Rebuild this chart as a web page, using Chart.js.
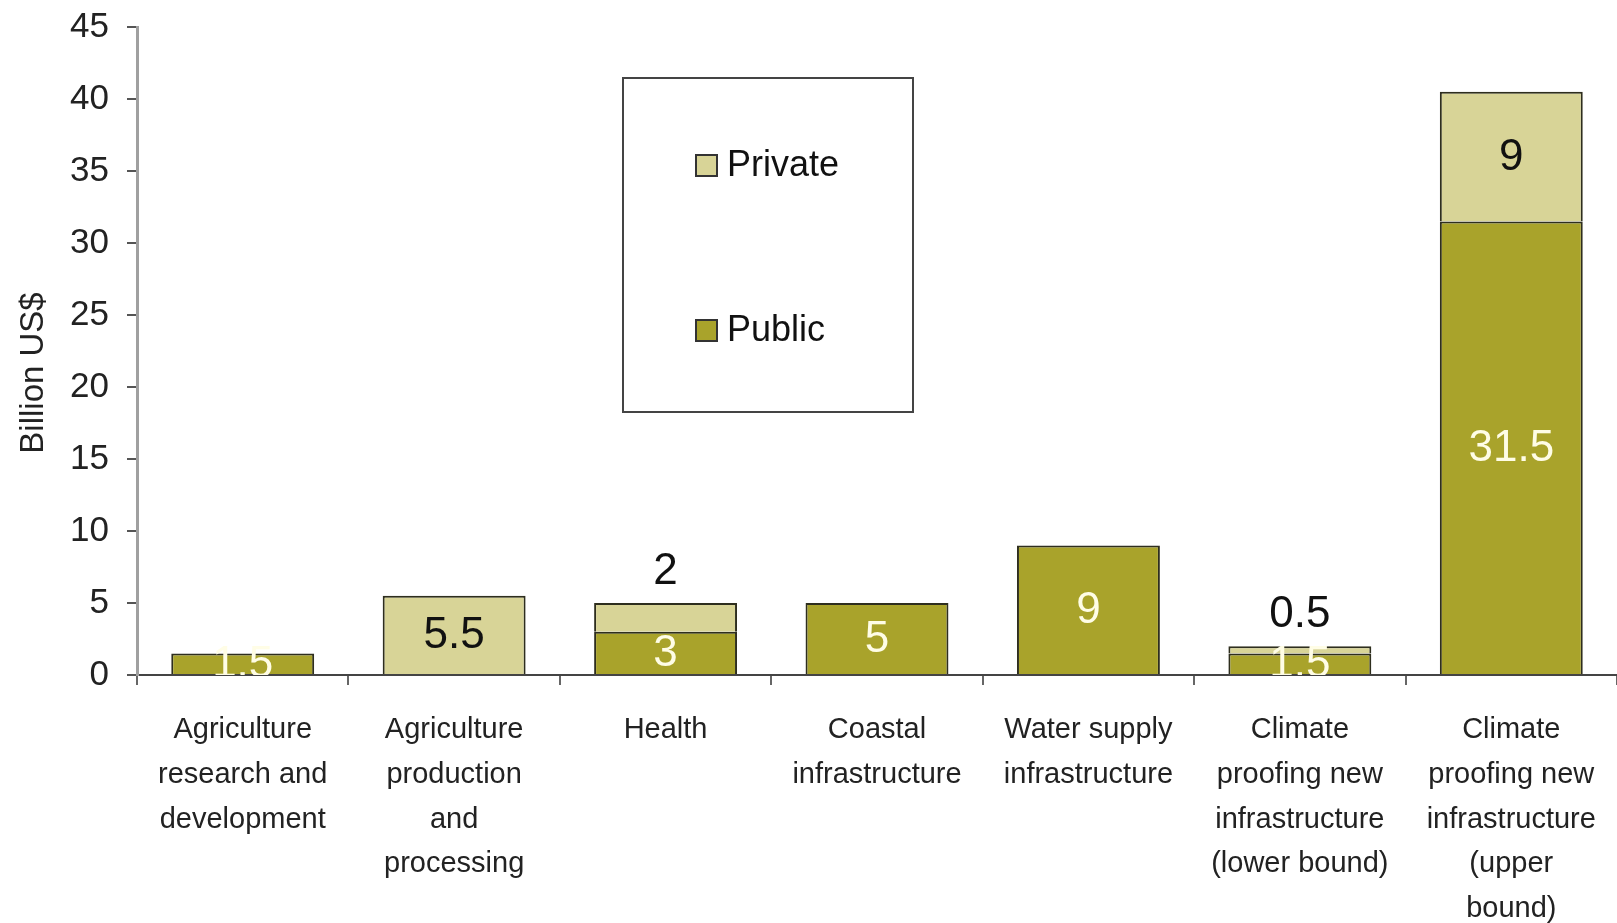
<!DOCTYPE html>
<html><head><meta charset="utf-8">
<script src="https://cdn.jsdelivr.net/npm/chart.js@4.4.1/dist/chart.umd.min.js"></script>
<style>html,body{margin:0;padding:0;background:#fff;} canvas{display:block;}</style>
</head><body>
<canvas id="c" width="1617" height="923"></canvas>
<script>
const categories = [
  ["Agriculture", "research and", "development"],
  ["Agriculture", "production", "and", "processing"],
  ["Health"],
  ["Coastal", "infrastructure"],
  ["Water supply", "infrastructure"],
  ["Climate", "proofing new", "infrastructure", "(lower bound)"],
  ["Climate", "proofing new", "infrastructure", "(upper", "bound)"]
];
const publicValues  = [1.5, 0, 3, 5, 9, 1.5, 31.5];
const privateValues = [0, 5.5, 2, 0, 0, 0.5, 9];
const yMin = 0, yMax = 45, yStep = 5;
const yTitle = "Billion US$";
const seriesNames = ["Public", "Private"];

const FONT = '"Liberation Sans", Arial, Helvetica, sans-serif';
const PUBLIC_COLOR = '#a9a32b';
const PRIVATE_COLOR = '#d8d497';

const valueLabels = {
  id: 'valueLabels',
  afterDatasetsDraw(chart) {
    const ctx = chart.ctx, ca = chart.chartArea;
    ctx.save();
    ctx.beginPath();
    ctx.rect(ca.left, ca.top, ca.right - ca.left, ca.bottom - ca.top);
    ctx.clip();
    ctx.font = '44px ' + FONT;
    ctx.textAlign = 'center';
    ctx.textBaseline = 'middle';
    chart.data.datasets.forEach((ds, di) => {
      const meta = chart.getDatasetMeta(di);
      meta.data.forEach((bar, i) => {
        const v = ds.data[i];
        if (!v) return;
        const top = Math.min(bar.y, bar.base), bottom = Math.max(bar.y, bar.base);
        let y = (top + bottom) / 2 + 1;
        let color = ds.labelColor;
        if (ds.labelAbove && (bottom - top) < 40) { y = top - 31; color = '#111'; }
        ctx.fillStyle = color;
        ctx.fillText(String(v), bar.x, y);
      });
    });
    ctx.restore();
  }
};

const extras = {
  id: 'extras',
  afterDraw(chart) {
    const ctx = chart.ctx;
    // y-axis title
    ctx.save();
    ctx.translate(34, 373);
    ctx.rotate(-Math.PI / 2);
    ctx.font = '33px ' + FONT;
    ctx.fillStyle = '#222';
    ctx.textAlign = 'center';
    ctx.textBaseline = 'middle';
    ctx.fillText(yTitle, 0, 0);
    ctx.restore();
    // legend box
    ctx.save();
    ctx.fillStyle = '#fff';
    ctx.fillRect(623, 78, 290, 334);
    ctx.strokeStyle = '#444';
    ctx.lineWidth = 2;
    ctx.strokeRect(623, 78, 290, 334);
    const items = [chart.data.datasets[1], chart.data.datasets[0]];
    const ys = [166, 331];
    ctx.font = '36px ' + FONT;
    ctx.textBaseline = 'middle';
    ctx.textAlign = 'left';
    items.forEach((ds, k) => {
      const y = ys[k];
      ctx.fillStyle = ds.backgroundColor;
      ctx.fillRect(696, y - 11, 21, 21);
      ctx.strokeStyle = '#333';
      ctx.lineWidth = 2;
      ctx.strokeRect(696, y - 11, 21, 21);
      ctx.fillStyle = '#111';
      ctx.fillText(ds.label, 727, y);
    });
    ctx.restore();
  }
};

new Chart(document.getElementById('c'), {
  type: 'bar',
  data: {
    labels: categories,
    datasets: [
      { label: seriesNames[0], data: publicValues, backgroundColor: PUBLIC_COLOR,
        borderColor: '#2e2e1e', borderWidth: 2, labelColor: '#fffde6', labelAbove: false },
      { label: seriesNames[1], data: privateValues, backgroundColor: PRIVATE_COLOR,
        borderColor: '#2e2e1e', borderWidth: 2, labelColor: '#111', labelAbove: true }
    ]
  },
  options: {
    responsive: false,
    animation: false,
    devicePixelRatio: 1,
    layout: { padding: { top: 27, right: 0, left: 0, bottom: 0 } },
    datasets: { bar: { categoryPercentage: 1, barPercentage: 0.676 } },
    plugins: { legend: { display: false }, tooltip: { enabled: false }, title: { display: false } },
    scales: {
      x: {
        stacked: true,
        offset: true,
        grid: { display: true, drawOnChartArea: false, offset: true, tickLength: 10, color: '#666', lineWidth: 2 },
        border: { display: true, color: '#444', width: 2 },
        ticks: { color: '#222', font: { family: FONT, size: 29, lineHeight: 1.54 }, padding: 23, maxRotation: 0, autoSkip: false },
        afterFit(scale) { scale.height = 248; scale.paddingLeft = 0; scale.paddingRight = 0; }
      },
      y: {
        stacked: true,
        min: yMin, max: yMax,
        grid: { display: true, drawOnChartArea: false, tickLength: 10, color: '#555', lineWidth: 2 },
        border: { display: true, color: '#a0a0a0', width: 3 },
        ticks: { stepSize: yStep, color: '#222', font: { family: FONT, size: 35 }, padding: 18 },
        afterFit(scale) { scale.width = 137; scale.paddingTop = 0; scale.paddingBottom = 0; }
      }
    }
  },
  plugins: [valueLabels, extras]
});
</script>
</body></html>
